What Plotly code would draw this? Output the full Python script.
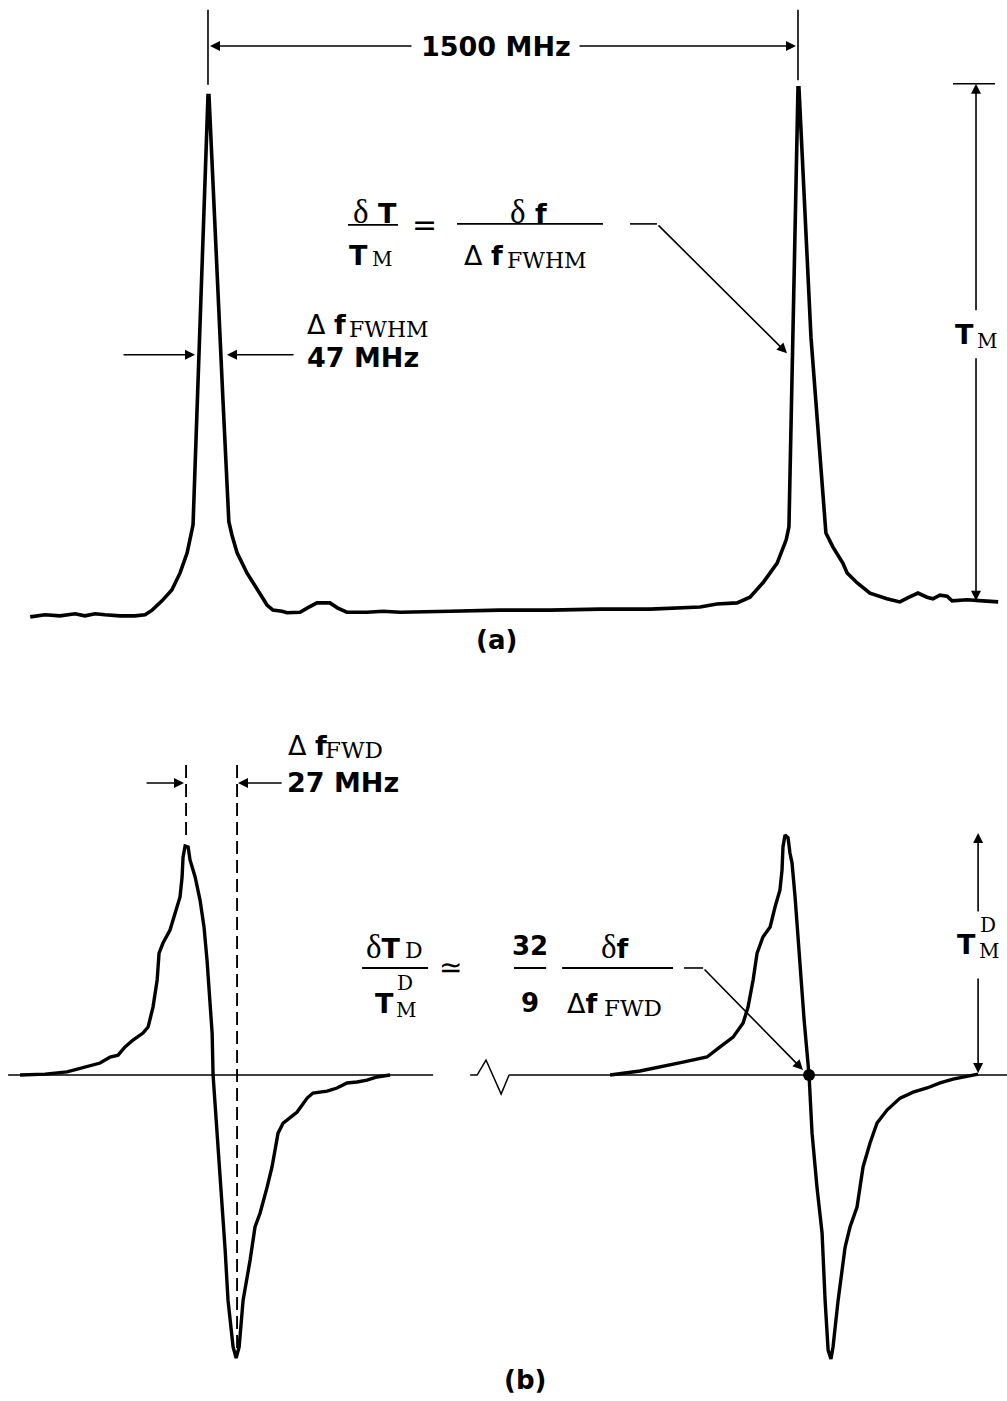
import plotly.graph_objects as go

# ---------------- (a) transmission spectrum ----------------
# detuning from first resonance (MHz) and transmission (% of T_M)
top_freq = [-452, -414, -376, -338, -313, -287, -262, -224, -186, -160,
            -142, -117, -92, -71, -53, -43, -38, 0, 2.5, 38,
            53, 61, 74, 99, 125, 150, 165, 188, 201, 234,
            252, 277, 310, 330, 353, 404, 445, 488, 615, 742,
            870, 997, 1124, 1251, 1294, 1345, 1378, 1411, 1447, 1470,
            1477, 1500, 1502.5, 1533, 1571, 1589, 1614, 1625, 1650, 1683,
            1726, 1759, 1780, 1805, 1828, 1843, 1861, 1879, 1892, 1930,
            1970, 2009]
top_trans = [-2.3, -1.9, -2.1, -1.7, -2.1, -1.7, -1.9, -2.1, -2.1, -1.9,
             -1.0, 0.8, 2.9, 6.2, 10.1, 13.5, 15.5, 98.5, 98.5, 39.7,
             16.1, 13.5, 10.1, 6.2, 2.9, 0.0, -1.0, -1.2, -1.5, -1.4,
             -0.6, 0.4, 0.4, -0.6, -1.4, -1.4, -1.2, -1.4, -1.2, -1.0,
             -1.0, -0.8, -0.8, -0.4, 0.2, 0.4, 1.5, 4.3, 8.1, 12.6,
             15.1, 100.0, 100.0, 51.8, 13.9, 11.2, 8.1, 6.2, 4.3, 2.3,
             1.2, 0.6, 1.4, 2.3, 1.5, 1.2, 1.9, 1.7, 0.8, 1.0,
             0.8, 0.6]

# ---------------- (b) derivative spectrum ----------------
# first resonance: detuning (MHz) and derivative signal (% of T_M^D)
d1_freq = [-102.2, -88.9, -77.3, -65.1, -59.8, -54.5, -50.3, -46.6, -42.4, -37.1,
           -34.4, -31.8, -29.6, -28.6, -26.5, -22.8, -20.1, -17.5, -16.4, -15.9,
           -14.8, -13.2, -12.2, -9.5, -6.9, -4.8, -3.2, -2.1, -0.5, 0.0,
           2.1, 4.8, 6.4, 7.9, 10.6, 12.2, 13.8, 15.9, 19.6, 22.2,
           24.9, 28.6, 31.2, 34.4, 37.1, 44.5, 49.8, 52.9, 60.4, 65.6,
           70.9, 76.2, 81.5, 86.8, 93.7]
d1_sig = [0.0, 0.4, 1.3, 3.8, 5.0, 7.5, 8.3, 11.7, 14.6, 17.5,
          20.0, 28.3, 39.6, 50.8, 55.0, 60.4, 67.5, 74.2, 82.5, 90.8,
          95.4, 95.0, 89.6, 82.5, 72.9, 61.7, 47.9, 36.7, 17.5, 0.0,
          -24.2, -52.1, -72.9, -93.8, -113.3, -117.9, -113.3, -93.8, -77.1, -63.3,
          -57.5, -46.7, -38.3, -24.2, -20.0, -15.4, -9.6, -7.5, -6.7, -5.4,
          -3.3, -2.9, -2.1, -0.8, 0.0]
# second resonance (1500 MHz away)
d2_freq = [1394.7, 1410.5, 1433.3, 1446.0, 1452.9, 1459.8, 1465.1, 1467.7, 1470.4, 1472.5,
           1475.6, 1479.4, 1482.0, 1484.6, 1485.7, 1486.2, 1487.3, 1488.9, 1489.9, 1491.0,
           1492.6, 1494.7, 1497.4, 1500.0, 1501.6, 1504.2, 1506.9, 1508.5, 1510.1, 1511.6,
           1512.7, 1515.4, 1519.1, 1521.7, 1525.4, 1528.6, 1532.3, 1536.0, 1541.3, 1548.2,
           1555.1, 1562.5, 1569.4, 1576.2, 1583.6, 1589.5]
d2_sig = [0.0, 1.7, 5.4, 7.5, 11.7, 15.8, 21.7, 28.3, 39.6, 50.8,
          57.5, 61.7, 70.0, 77.1, 85.4, 95.0, 100.0, 98.8, 92.5, 88.3,
          74.2, 50.8, 22.9, 0.0, -24.2, -46.7, -65.8, -93.8, -114.6, -118.3,
          -113.3, -93.8, -71.7, -63.3, -55.0, -38.3, -28.3, -20.0, -14.6, -9.6,
          -7.1, -5.4, -3.3, -1.7, -0.4, 0.4]
lock_freq = [1500.0]
lock_sig = [0.0]

BLK = "black"
SANS = "DejaVu Sans"
SERIF = "DejaVu Serif"
DELTA_S = "<span style='font-family:Liberation Serif;font-size:33px'>δ</span>"

fig = go.Figure()
fig.add_trace(go.Scatter(x=top_freq, y=top_trans, mode="lines",
                         line=dict(color=BLK, width=3.6), xaxis="x", yaxis="y"))
fig.add_trace(go.Scatter(x=d1_freq, y=d1_sig, mode="lines",
                         line=dict(color=BLK, width=3.4), xaxis="x2", yaxis="y2"))
fig.add_trace(go.Scatter(x=d2_freq, y=d2_sig, mode="lines",
                         line=dict(color=BLK, width=3.4), xaxis="x3", yaxis="y2"))
fig.add_trace(go.Scatter(x=lock_freq, y=lock_sig, mode="markers",
                         marker=dict(color=BLK, size=12), xaxis="x3", yaxis="y2"))

A = ("x", "y")
L = ("x2", "y2")
R = ("x3", "y2")


def txt(text, x, y, ref, size, family=SANS, xanchor="center"):
    return dict(text=text, x=x, y=y, xref=ref[0], yref=ref[1], showarrow=False,
                font=dict(family=family, size=size, color=BLK),
                xanchor=xanchor, yanchor="middle", borderpad=0)


def arrow(x, y, ax, ay, ref):
    return dict(text="", x=x, y=y, ax=ax, ay=ay, xref=ref[0], yref=ref[1],
                axref=ref[0], ayref=ref[1], showarrow=True, arrowhead=2,
                arrowsize=1.25, arrowwidth=1.6, arrowcolor=BLK, standoff=0)


def seg(x0, y0, x1, y1, ref, width=1.6, dash=None):
    ln = dict(color=BLK, width=width)
    if dash:
        ln["dash"] = dash
    return dict(type="line", x0=x0, y0=y0, x1=x1, y1=y1,
                xref=ref[0], yref=ref[1], line=ln)


ann = []
shapes = []

# ---- panel (a) ----
shapes += [seg(0, 100.6, 0, 115.1, A), seg(1500, 101.5, 1500, 115.1, A)]
ann += [arrow(5.1, 108.1, 521.2, 108.1, A), arrow(1494.9, 108.1, 940.7, 108.1, A)]
ann.append(txt("<b>1500 MHz</b>", 732.2, 108.1, A, 27))

ann += [arrow(-33.0, 48.4, -218.6, 48.4, A), arrow(48.3, 48.4, 221.2, 48.4, A)]
ann.append(txt("Δ <b>f</b>", 249.2, 54.2, A, 27, xanchor="left"))
ann.append(txt("FWHM", 355.9, 53.2, A, 22, family=SERIF, xanchor="left"))
ann.append(txt("<b>47 MHz</b>", 249.2, 47.8, A, 27, xanchor="left"))

ann.append(txt(DELTA_S + "<b> T</b>", 424.0, 76.0, A, 27))
shapes.append(seg(355.9, 73.5, 483.1, 73.5, A, width=1.8))
ann.append(txt("<b>T</b>", 383.9, 67.5, A, 27))
ann.append(txt("M", 414.4, 66.9, A, 20, family=SERIF, xanchor="left"))
ann.append(txt("=", 551.7, 73.5, A, 30))
ann.append(txt(DELTA_S + "<b> f</b>", 813.6, 76.0, A, 27))
shapes.append(seg(633.1, 73.7, 1004.2, 73.7, A, width=1.8))
ann.append(txt("Δ <b>f</b>", 648.3, 67.5, A, 27, xanchor="left"))
ann.append(txt("FWHM", 757.6, 66.7, A, 22, family=SERIF, xanchor="left"))
shapes.append(seg(1072.9, 73.7, 1141.5, 73.7, A))
ann.append(arrow(1472.0, 48.7, 1141.5, 73.7, A))

shapes.append(seg(1894.1, 100.8, 2000.9, 100.8, A))
ann += [arrow(1952.6, 100.8, 1952.6, 56.7, A), arrow(1952.6, 0.8, 1952.6, 48.0, A)]
ann.append(txt("<b>T</b>", 1922.1, 52.4, A, 27))
ann.append(txt("M", 1952.6, 51.0, A, 20, family=SERIF, xanchor="left"))
ann.append(txt("<b>(a)</b>", 734.7, -6.8, A, 26))

# ---- panel (b) ----
shapes.append(seg(-108.5, 0, 116.5, 0, L, width=1.5))
shapes.append(dict(type="path", xref="x2", yref="y2",
                   path="M136.1,0 L139.8,0 L144.5,6.25 L152.5,-7.9 L156.7,0",
                   line=dict(color=BLK, width=1.5)))
shapes.append(seg(1341.2, 0, 1604.8, 0, R, width=1.5))
shapes.append(seg(-14.3, 129.2, -14.3, 97.5, L, width=1.9, dash="13px,6px"))
shapes.append(seg(12.7, 129.2, 12.7, -114.6, L, width=1.9, dash="13px,6px"))
ann += [arrow(-15.4, 121.7, -36.0, 121.7, L), arrow(13.2, 121.7, 37.1, 121.7, L)]
ann.append(txt("Δ <b>f</b>", 39.2, 137.5, L, 27, xanchor="left"))
ann.append(txt("FWD", 58.8, 135.6, L, 23, family=SERIF, xanchor="left"))
ann.append(txt("<b>27 MHz</b>", 38.7, 121.7, L, 27, xanchor="left"))

ann.append(txt(DELTA_S + "<b>T</b>", 90.2, 53.3, L, 27))
ann.append(txt("D", 101.1, 51.7, L, 22, family=SERIF, xanchor="left"))
shapes.append(seg(78.9, 44.6, 113.8, 44.6, L, width=1.8))
ann.append(txt("<b>T</b>", 90.5, 29.6, L, 27))
ann.append(txt("D", 96.9, 38.3, L, 20, family=SERIF, xanchor="left"))
ann.append(txt("M", 96.4, 26.9, L, 20, family=SERIF, xanchor="left"))
ann.append(txt("≃", 125.5, 44.6, L, 28))
ann.append(txt("<b>32</b>", 167.8, 53.7, L, 26))
shapes.append(seg(159.3, 44.6, 176.3, 44.6, L, width=1.8))
ann.append(txt("<b>9</b>", 167.8, 30.0, L, 26))
ann.append(txt(DELTA_S + "<b>f</b>", 212.8, 53.3, L, 27))
shapes.append(seg(184.8, 44.6, 243.5, 44.6, L, width=1.8))
ann.append(txt("Δ<b>f</b>", 186.9, 30.0, L, 27, xanchor="left"))
ann.append(txt("FWD", 206.5, 27.9, L, 23, family=SERIF, xanchor="left"))
shapes.append(seg(1433.8, 44.6, 1443.9, 44.6, R))
ann.append(arrow(1496.8, 2.1, 1443.9, 44.6, R))

ann += [arrow(1589.5, 100.8, 1589.5, 67.5, R), arrow(1589.5, 0.8, 1589.5, 40.8, R)]
ann.append(txt("<b>T</b>", 1583.1, 54.2, R, 27))
ann.append(txt("D", 1590.0, 62.5, R, 20, family=SERIF, xanchor="left"))
ann.append(txt("M", 1589.5, 51.5, R, 20, family=SERIF, xanchor="left"))
ann.append(txt("<b>(b)</b>", 165.2, -127.1, L, 26))

ax_off = dict(visible=False, showgrid=False, zeroline=False, fixedrange=True)
fig.update_layout(
    width=1007, height=1401,
    margin=dict(l=0, r=0, t=0, b=0),
    paper_bgcolor="white", plot_bgcolor="rgba(0,0,0,0)",
    showlegend=False,
    xaxis=dict(domain=[0, 1], range=[-528.8, 2031.4], anchor="y", **ax_off),
    yaxis=dict(domain=[0.52891, 1], range=[-10.64, 117.0], anchor="x", **ax_off),
    xaxis2=dict(domain=[0, 1], range=[-112.8, 420.3], anchor="y2", **ax_off),
    xaxis3=dict(domain=[0, 1], range=[1071.7, 1604.8], anchor="y2", overlaying="x2", **ax_off),
    yaxis2=dict(domain=[0, 0.50036], range=[-135.8, 156.25], anchor="x2", **ax_off),
    annotations=ann, shapes=shapes,
)

fig.write_html("out.html")
